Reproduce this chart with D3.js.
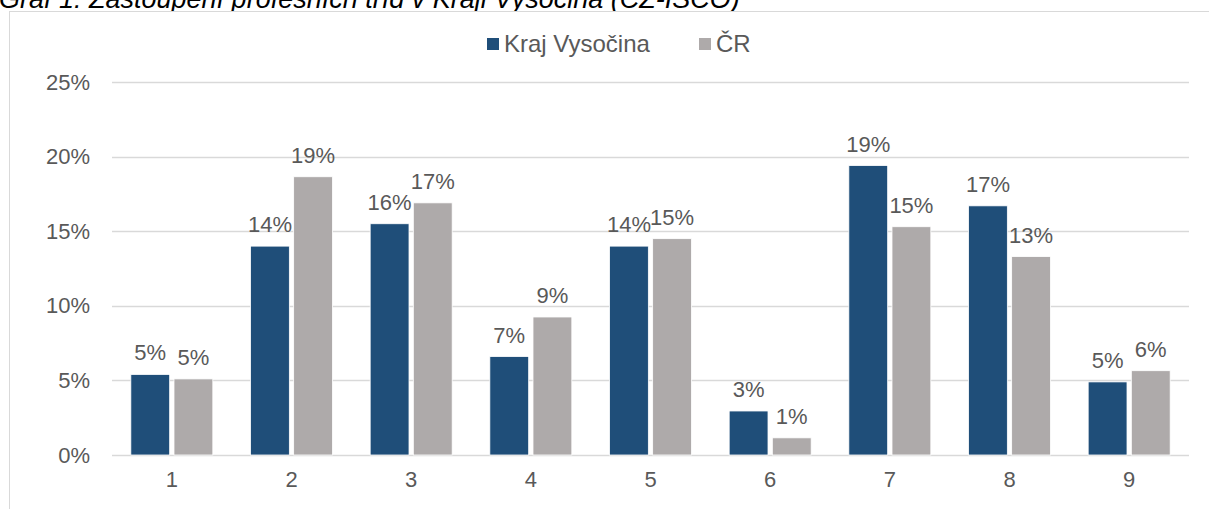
<!DOCTYPE html>
<html>
<head>
<meta charset="utf-8">
<script src="https://cdn.jsdelivr.net/npm/d3@7"></script>
<style>
  body { margin:0; background:#fff; }
  svg { display:block; font-family: "Liberation Sans", Arial, sans-serif; }
</style>
</head>
<body>
<div id="chart"></div>
<script>
// categories (CZ-ISCO classes)
var categories = ["1","2","3","4","5","6","7","8","9"];
var seriesNames = ["Kraj Vysočina", "ČR"];
// shares in %
var krajValues = [5.4, 14.0, 15.5, 6.6, 14.0, 2.95, 19.4, 16.7, 4.9];
var crValues   = [5.1, 18.65, 16.9, 9.25, 14.5, 1.15, 15.3, 13.3, 5.65];
var yTicks = [0, 5, 10, 15, 20, 25];
var titleText = "Graf 1: Zastoupení profesních tříd v Kraji Vysočina (CZ-ISCO)";

var W = 1209, H = 509;
var colors = {"Kraj Vysočina": "#1f4e79", "ČR": "#aeaaaa"};
var textColor = "#595959";
var plot = {x1: 112, x2: 1189, y1: 82, y2: 455};
var fs = 22;

var svg = d3.select("#chart").append("svg")
  .attr("width", W).attr("height", H)
  .attr("viewBox", "0 0 " + W + " " + H);

// title, cropped at the top like the source image
svg.append("text")
  .attr("x", -1).attr("y", 8)
  .attr("font-size", 27)
  .attr("font-style", "italic")
  .attr("fill", "#000")
  .text(titleText);

// chart frame
svg.append("rect")
  .attr("x", 9.5).attr("y", 11.5)
  .attr("width", W).attr("height", H)
  .attr("fill", "#fff")
  .attr("stroke", "#d9d9d9")
  .attr("stroke-width", 1);

var x0 = d3.scaleBand().domain(categories).range([plot.x1, plot.x2]).padding(0);
var groupW = 82;
var x1 = d3.scaleBand().domain(seriesNames).range([0, groupW]).paddingInner(0.1);
var y = d3.scaleLinear().domain([0, 25]).range([plot.y2, plot.y1]);

// gridlines
svg.append("g").selectAll("line")
  .data(yTicks)
  .join("line")
  .attr("x1", plot.x1).attr("x2", plot.x2)
  .attr("y1", function(d){ return Math.round(y(d)) + 0.5; })
  .attr("y2", function(d){ return Math.round(y(d)) + 0.5; })
  .attr("stroke", "#d9d9d9")
  .attr("stroke-width", 1.5);

// y axis labels
var yAxis = d3.axisLeft(y).tickValues(yTicks).tickSize(0).tickPadding(0)
  .tickFormat(function(d){ return d + "%"; });
var gy = svg.append("g")
  .attr("transform", "translate(90,0)")
  .call(yAxis);
gy.select(".domain").remove();
gy.selectAll("text")
  .attr("font-size", fs)
  .attr("font-family", "Liberation Sans, Arial, sans-serif")
  .attr("fill", textColor);

// x axis labels
var xAxis = d3.axisBottom(x0).tickSize(0).tickPadding(0);
var gx = svg.append("g")
  .attr("transform", "translate(0," + (plot.y2 + 16) + ")")
  .call(xAxis);
gx.select(".domain").remove();
gx.selectAll("text")
  .attr("font-size", fs)
  .attr("font-family", "Liberation Sans, Arial, sans-serif")
  .attr("fill", textColor);

// bars
var rows = categories.map(function(c, i){
  return {cat: c, vals: [
    {name: seriesNames[0], v: krajValues[i]},
    {name: seriesNames[1], v: crValues[i]}
  ]};
});
var offset = (x0.bandwidth() - groupW) / 2;

var groups = svg.append("g").selectAll("g")
  .data(rows)
  .join("g")
  .attr("transform", function(d){ return "translate(" + (x0(d.cat) + offset) + ",0)"; });

groups.selectAll("rect")
  .data(function(d){ return d.vals; })
  .join("rect")
  .attr("x", function(d){ return x1(d.name); })
  .attr("width", x1.bandwidth())
  .attr("y", function(d){ return y(d.v); })
  .attr("height", function(d){ return y(0) - y(d.v); })
  .attr("fill", function(d){ return colors[d.name]; })
  .attr("stroke", "#fff")
  .attr("stroke-width", 0.8);

groups.selectAll("text")
  .data(function(d){ return d.vals; })
  .join("text")
  .attr("x", function(d){ return x1(d.name) + x1.bandwidth() / 2; })
  .attr("y", function(d){ return y(d.v) - 14; })
  .attr("text-anchor", "middle")
  .attr("font-size", fs)
  .attr("fill", textColor)
  .text(function(d){ return Math.round(d.v) + "%"; });

// legend
var legend = svg.append("g");
var legendItems = [
  {name: seriesNames[0], x: 487},
  {name: seriesNames[1], x: 699}
];
legendItems.forEach(function(it){
  legend.append("rect")
    .attr("x", it.x).attr("y", 38)
    .attr("width", 12).attr("height", 12)
    .attr("fill", colors[it.name]);
  legend.append("text")
    .attr("x", it.x + 17).attr("y", 52)
    .attr("font-size", 24)
    .attr("fill", textColor)
    .text(it.name);
});
</script>
</body>
</html>
